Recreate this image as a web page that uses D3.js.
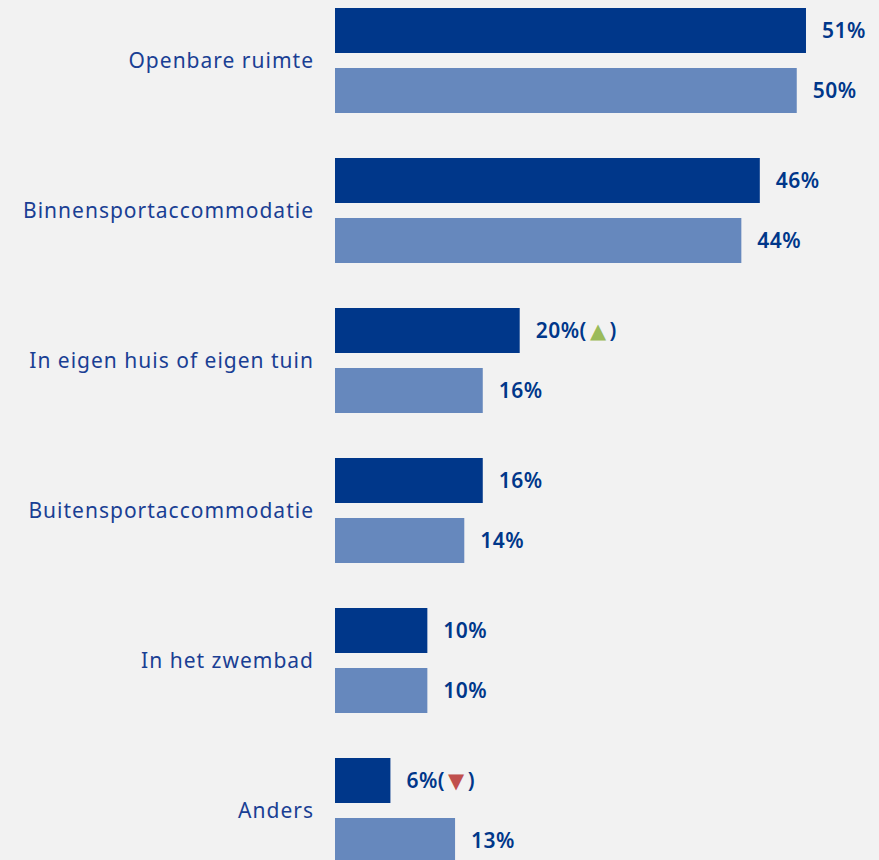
<!DOCTYPE html>
<html><head><meta charset="utf-8">
<script src="https://cdn.jsdelivr.net/npm/d3@7"></script>
<style>html,body{margin:0;padding:0;background:#f2f2f2;overflow:hidden}</style>
</head><body>
<svg id="c" width="879" height="860"></svg>
<script>
const categories = ["Openbare ruimte","Binnensportaccommodatie","In eigen huis of eigen tuin","Buitensportaccommodatie","In het zwembad","Anders"];
const seriesNames = ["Huidige meting","Vorige meting"];
const currentValues = [51,46,20,16,10,6];
const previousValues = [50,44,16,14,10,13];
const changeMarkers = ["","","up","","","down"];
const colors = ["#00378a","#6688bd"];

const svg = d3.select("#c");
svg.append("rect").attr("width",879).attr("height",860).attr("fill","#f2f2f2");

const y = d3.scaleBand().domain(categories).range([8,863]).paddingInner(0.3).paddingOuter(0);
const ys = d3.scaleBand().domain(seriesNames).range([0,y.bandwidth()]).paddingInner(0.25);
const x = d3.scaleLinear().domain([0,100]).range([335,335+923.5]);

const data = [];
categories.forEach((c,i)=>{
  data.push({cat:c,s:seriesNames[0],v:currentValues[i],m:changeMarkers[i]});
  data.push({cat:c,s:seriesNames[1],v:previousValues[i],m:""});
});

svg.append("g").selectAll("rect").data(data).join("rect")
  .attr("x",x(0)).attr("y",d=>y(d.cat)+ys(d.s))
  .attr("width",d=>x(d.v)-x(0)).attr("height",ys.bandwidth())
  .attr("fill",(d)=>colors[seriesNames.indexOf(d.s)]);

const lab = svg.append("g").selectAll("text").data(data).join("text")
  .attr("x",d=>x(d.v)+16).attr("y",d=>y(d.cat)+ys(d.s)+ys.bandwidth()/2)
  .attr("dy","0.36em")
  .attr("font-family","'Noto Sans', sans-serif").attr("font-weight","600")
  .attr("font-size",21).attr("letter-spacing",0.5).attr("fill","#00378a");
lab.each(function(d){
  const t=d3.select(this);
  if(!d.m){ t.text(d.v+"%"); return; }
  t.append("tspan").text(d.v+"%(");
  t.append("tspan").attr("font-family","DejaVu Sans").attr("font-size",21).attr("dx",3)
    .attr("fill",d.m==="up"?"#9bbb59":"#c0504d").text(d.m==="up"?"▲":"▼");
  t.append("tspan").attr("dx",3).text(")");
});

svg.append("g").selectAll("text").data(categories).join("text")
  .attr("x",314).attr("y",d=>y(d)+y.bandwidth()/2).attr("dy","0.36em")
  .attr("text-anchor","end")
  .attr("font-family","'Noto Sans', sans-serif").attr("font-size",21).attr("letter-spacing",1)
  .attr("fill","#1a3f94").text(d=>d);
</script>
</body></html>
